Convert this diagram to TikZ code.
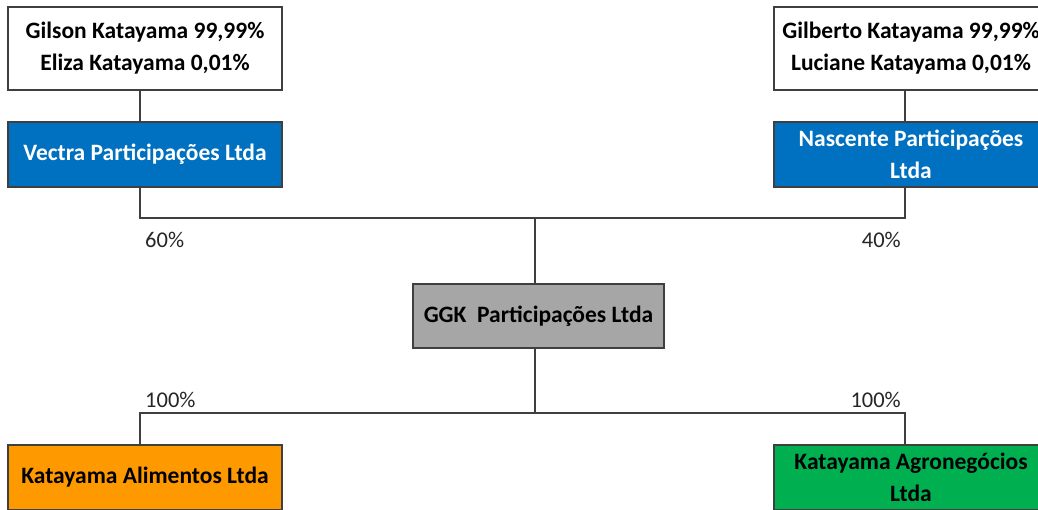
\documentclass[tikz,border=0pt]{standalone}
\usepackage{fontspec}
\setmainfont{Carlito}
\definecolor{lineclr}{HTML}{3F3F3F}
\definecolor{blueclr}{HTML}{0070C0}
\definecolor{grayclr}{HTML}{A6A6A6}
\definecolor{orangeclr}{HTML}{FF9900}
\definecolor{greenclr}{HTML}{00B050}
\begin{document}
\begin{tikzpicture}[x=1pt,y=-1pt,
  box/.style={draw=lineclr,line width=1.6pt,minimum width=274pt,align=center,
    font=\fontsize{23.5}{32}\selectfont\bfseries,inner sep=0pt},
  ownerbox/.style={box,fill=white,minimum height=83pt,text=black},
  holdbox/.style={box,fill=blueclr,minimum height=65pt,text=white},
  link/.style={draw=lineclr,line width=1.6pt},
  pct/.style={font=\fontsize{22.5}{24}\selectfont,text=black!85,inner sep=0pt,anchor=west}]
\useasboundingbox (0,0) rectangle (1038,509);
\clip (0,0) rectangle (1038,509);
\fill[white] (0,0) rectangle (1038,509);
\node[ownerbox] (gil) at (145,48.5) {Gilson Katayama 99,99\%\\Eliza Katayama 0,01\%};
\node[ownerbox] (gib) at (911,48.5) {Gilberto Katayama 99,99\%\\Luciane Katayama 0,01\%};
\node[holdbox] (vec) at (145,154.5) {Vectra Participações Ltda};
\node[holdbox] (nas) at (911,154.5) {Nascente Participações\\Ltda};
\node[box,fill=grayclr,minimum width=251pt,minimum height=64pt,text=black] (ggk) at (538.5,316) {GGK\ \ Participações Ltda};
\node[box,fill=orangeclr,minimum height=65pt,text=black] (ali) at (145,477.5) {Katayama Alimentos Ltda};
\node[box,fill=greenclr,minimum height=65pt,text=black] (agr) at (911,477.5) {Katayama Agronegócios\\Ltda};
\coordinate (jl) at (140,218);
\coordinate (jr) at (905,218);
\coordinate (jm) at (535,218);
\coordinate (kl) at (140,413);
\coordinate (kr) at (905,413);
\coordinate (km) at (535,413);
\draw[link] (gil.south -| jl) -- (vec.north -| jl);
\draw[link] (gib.south -| jr) -- (nas.north -| jr);
\draw[link] (vec.south -| jl) -- (jl) -- (jr) -- (nas.south -| jr);
\draw[link] (jm) -- (ggk.north -| jm);
\draw[link] (ggk.south -| km) -- (km);
\draw[link] (ali.north -| kl) -- (kl) -- (kr) -- (agr.north -| kr);
\node[pct] (p60) at (145,240) {60\%};
\node[pct,anchor=east] (p40) at (901,240) {40\%};
\node[pct] (p100a) at (145,400) {100\%};
\node[pct,anchor=east] (p100b) at (901,400) {100\%};
\end{tikzpicture}
\end{document}
